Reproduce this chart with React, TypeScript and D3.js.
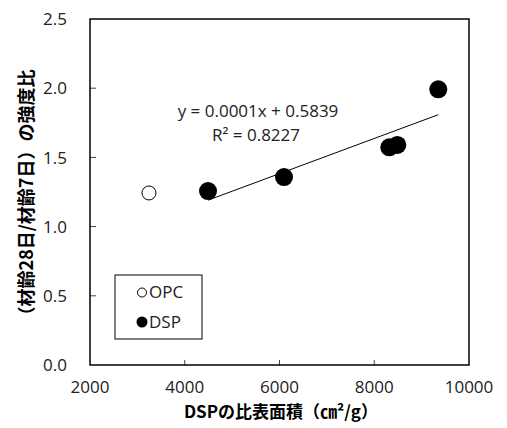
import * as d3 from 'd3';

const opcX = [3245];
const opcY = [1.243];
const dspX = [4491, 6095, 8318, 8487, 9352];
const dspY = [1.257, 1.358, 1.573, 1.59, 1.992];
const xTicks = [2000, 4000, 6000, 8000, 10000];
const yTicks = [0.0, 0.5, 1.0, 1.5, 2.0, 2.5];
const eqText = 'y = 0.0001x + 0.5839';
const r2Text = 'R² = 0.8227';
const xTitle = 'DSPの比表面積（㎝²/g）';
const yTitle = '（材齢28日/材齢7日）の強度比';
const legendNames = ['OPC', 'DSP'];

const W = 507;
const H = 428;
const margin = { top: 19, right: 38, bottom: 63, left: 90 };
const numFont = "'Open Sans', 'Liberation Sans', sans-serif";
const cjkFont = "'Noto Sans CJK JP', sans-serif";

const App = () => {
  const x = d3.scaleLinear().domain([2000, 10000]).range([margin.left, W - margin.right]);
  const y = d3.scaleLinear().domain([0, 2.5]).range([H - margin.bottom, margin.top]);

  // least squares fit of the DSP points
  const mx = d3.mean(dspX)!;
  const my = d3.mean(dspY)!;
  const sxy = d3.sum(dspX, (v, i) => (v - mx) * (dspY[i] - my));
  const sxx = d3.sum(dspX, (v) => (v - mx) ** 2);
  const slope = sxy / sxx;
  const icpt = my - slope * mx;
  const x0 = d3.min(dspX)!;
  const x1 = d3.max(dspX)!;
  const fit = d3.line<number>().x((d) => x(d)).y((d) => y(slope * d + icpt));

  const bottom = H - margin.bottom;
  const right = W - margin.right;

  return (
    <svg width={W} height={H} style={{ position: 'absolute', left: 0, top: 0, background: '#fff' }}>
      <rect x={0} y={0} width={W} height={H} fill="#fff" />
      {/* ticks */}
      {yTicks.slice(1, -1).map((t) => (
        <line key={'yt' + t} x1={margin.left} x2={margin.left + 6} y1={y(t)} y2={y(t)} stroke="#444" strokeWidth={1} />
      ))}
      {xTicks.slice(1, -1).map((t) => (
        <line key={'xt' + t} x1={x(t)} x2={x(t)} y1={bottom} y2={bottom - 5} stroke="#444" strokeWidth={1} />
      ))}
      <rect x={margin.left} y={margin.top} width={right - margin.left} height={bottom - margin.top}
        fill="none" stroke="#000" strokeWidth={1.5} />
      {/* tick labels */}
      {yTicks.map((t) => (
        <text key={'yl' + t} x={margin.left - 23} y={y(t)} dy="0.36em" textAnchor="end"
          fontFamily={numFont} fontSize={17} fill="#222">{t.toFixed(1)}</text>
      ))}
      {xTicks.map((t) => (
        <text key={'xl' + t} x={x(t)} y={bottom + 28} textAnchor="middle"
          fontFamily={numFont} fontSize={17} fill="#222">{t}</text>
      ))}
      {/* axis titles */}
      <text x={281} y={418} textAnchor="middle" fontFamily={cjkFont} fontWeight="bold" fontSize={17} fill="#000">{xTitle}</text>
      <text transform="translate(33,197) rotate(-90)" textAnchor="middle" fontFamily={cjkFont} fontWeight="bold"
        fontSize={18} fill="#000">{yTitle}</text>
      {/* trend line */}
      <path d={fit([x0, x1]) ?? ''} fill="none" stroke="#000" strokeWidth={1} />
      {/* points */}
      {opcX.map((v, i) => (
        <circle key={'o' + i} cx={x(v)} cy={y(opcY[i])} r={7} fill="#fff" stroke="#000" strokeWidth={1} />
      ))}
      {dspX.map((v, i) => (
        <circle key={'d' + i} cx={x(v)} cy={y(dspY[i])} r={9} fill="#000" />
      ))}
      {/* equation */}
      <text x={258} y={117} textAnchor="middle" fontFamily={numFont} fontSize={17} fill="#222">{eqText}</text>
      <text x={256} y={141} textAnchor="middle" fontFamily={numFont} fontSize={17} fill="#222">{r2Text}</text>
      {/* legend */}
      <rect x={115} y={275} width={87} height={64} fill="#fff" stroke="#000" strokeWidth={1} />
      <circle cx={142} cy={292.5} r={4.5} fill="#fff" stroke="#000" strokeWidth={1} />
      <text x={149} y={298} fontFamily={numFont} fontSize={17} fill="#222">{legendNames[0]}</text>
      <circle cx={142} cy={322} r={5.5} fill="#000" />
      <text x={149} y={328} fontFamily={numFont} fontSize={17} fill="#222">{legendNames[1]}</text>
    </svg>
  );
};

export default App;
